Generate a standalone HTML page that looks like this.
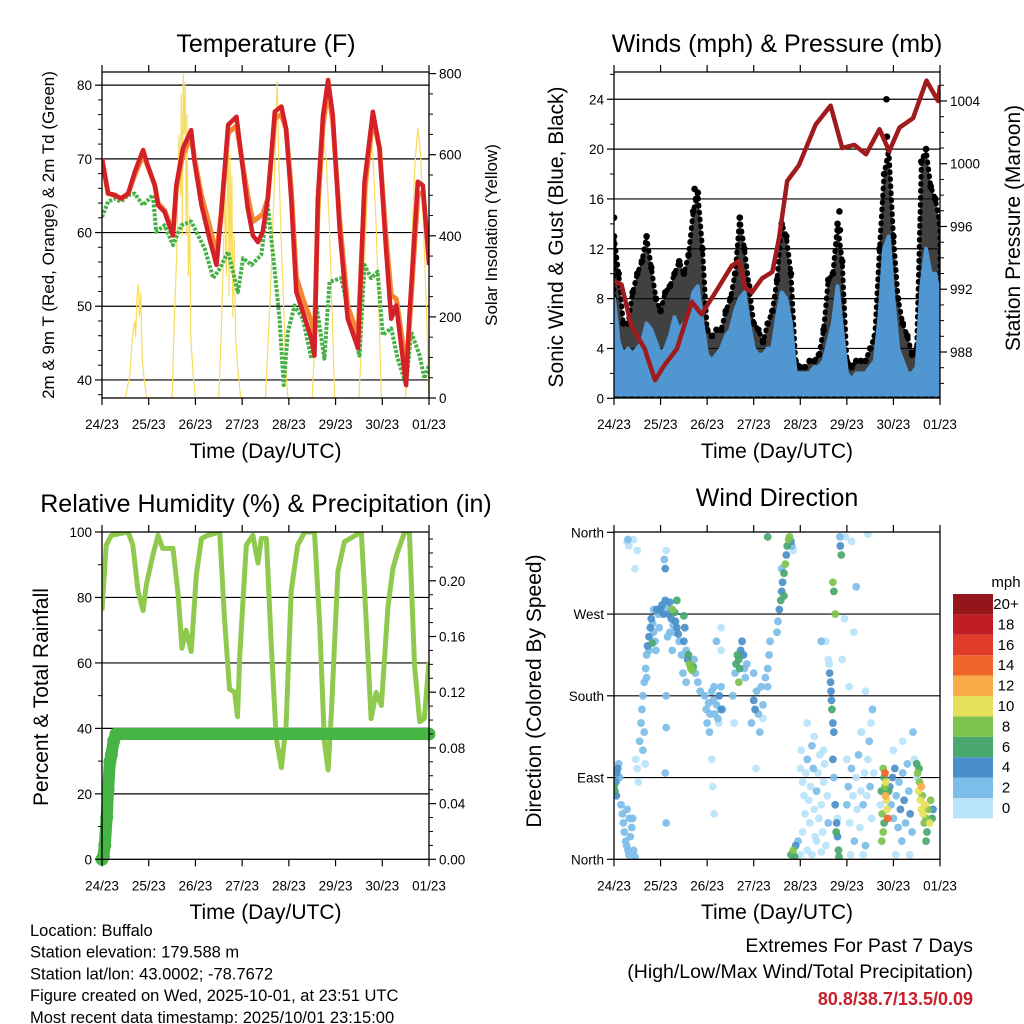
<!DOCTYPE html>
<html><head><meta charset="utf-8"><style>
html,body{margin:0;padding:0;background:#fff;}
svg{display:block;font-family:"Liberation Sans",Arial,sans-serif;}
</style></head><body>
<svg id="chart" width="1024" height="1024" viewBox="0 0 1024 1024" xmlns="http://www.w3.org/2000/svg">
<rect x="0" y="0" width="1024" height="1024" fill="#fff"/>
</svg>
<script>
// ---------- DATA ----------
const dayLabels = ["24/23","25/23","26/23","27/23","28/23","29/23","30/23","01/23"];
const tempTimes = [0,.13,.27,.41,.56,.7,.88,.98,1.13,1.2,1.34,1.52,1.59,1.73,1.91,1.98,2.13,2.3,2.45,2.55,2.7,2.88,2.98,3.12,3.23,3.34,3.44,3.55,3.7,3.84,3.94,4.05,4.16,4.3,4.48,4.55,4.62,4.73,4.84,4.94,5.09,5.26,5.48,5.62,5.8,5.94,6.08,6.19,6.3,6.44,6.51,6.58,6.76,6.87,7.0];
const temp2m = [70,65.3,65.1,64.6,65.3,68.2,71.2,69.1,66.4,63.7,62.8,59.6,66.4,71.4,73.9,69.6,63.7,59.2,55.6,62.4,74.6,75.7,70.5,63.3,59.6,58.7,60.1,64.6,76.4,77.1,74.1,64.6,51.9,49.2,45.6,43.3,64.6,75.9,80.7,75.9,60.1,48.3,44.3,66.9,76.4,71.4,57.8,48.3,50.1,42.9,39.3,48.7,66.9,66.4,55.6];
const temp9m = [70,65.3,65.1,64.6,65.3,67.8,70.5,69,66.4,64,63,60,66,70.5,73,70,65,61,57,62.5,73.5,74.5,70.5,65,61.5,62,62.5,64.6,75.5,76,74,66,54,51,48,46,63,74.5,79.5,75,61.5,50,46,65.5,75.5,71.5,59.5,51.5,51,45,41,47.5,65,65.5,57];
const dewTimes = [0,.13,.27,.41,.56,.7,.88,1.09,1.16,1.34,1.52,1.7,1.91,2.2,2.38,2.52,2.7,2.91,3.02,3.2,3.41,3.55,3.7,3.8,3.89,3.98,4.12,4.3,4.48,4.59,4.76,4.87,5.12,5.34,5.51,5.62,5.76,5.9,6.01,6.19,6.33,6.51,6.62,6.8,6.9,7.0];
const dewPoint = [62.1,64.2,64.6,64.2,65.1,65.3,63.7,65.1,60.1,61,58.3,61,61.5,57.8,53.8,55.1,57.4,51.9,56.5,55.6,57,63.7,54.7,48.3,39.3,46.5,50.1,48.3,42.9,50.1,42.9,53.3,53.8,47.4,43.3,55.6,53.8,54.7,46.1,47,42.9,39.3,46.5,43.3,40.2,42];
const solarTimes = [0,.5,.6,.65,.7,.72,.75,.78,.8,.83,.86,.9,.95,1.5,1.55,1.6,1.62,1.65,1.68,1.7,1.72,1.74,1.76,1.78,1.8,1.82,1.85,1.88,1.9,1.95,2.0,2.5,2.55,2.6,2.63,2.66,2.7,2.72,2.74,2.76,2.78,2.8,2.83,2.86,2.9,2.97,3.5,3.55,3.62,3.68,3.72,3.75,3.78,3.82,3.88,3.93,3.98,4.5,4.55,4.62,4.7,4.75,4.8,4.87,4.93,4.98,5.5,5.55,5.62,5.7,5.75,5.8,5.87,5.93,5.98,6.5,6.55,6.62,6.7,6.76,6.82,6.88,6.95,7.0];
const solarValues = [0,0,60,150,190,150,250,280,200,260,100,50,0,0,200,350,500,650,500,750,400,800,650,780,400,700,300,450,150,60,0,0,150,350,550,300,680,250,600,350,550,200,400,150,80,0,0,120,300,500,650,780,600,450,250,80,0,0,120,330,560,630,590,420,200,0,0,120,330,560,650,600,420,200,0,0,120,350,580,665,600,430,200,0];
const windTimes = [0,.1,.2,.3,.4,.5,.6,.7,.8,.9,1,1.1,1.2,1.3,1.4,1.5,1.6,1.7,1.8,1.9,2,2.1,2.2,2.3,2.4,2.5,2.6,2.7,2.8,2.9,3,3.1,3.2,3.3,3.4,3.5,3.6,3.7,3.8,3.9,4,4.1,4.2,4.3,4.4,4.5,4.6,4.7,4.8,4.9,5,5.1,5.2,5.3,5.4,5.5,5.6,5.7,5.8,5.9,6,6.1,6.2,6.3,6.4,6.5,6.6,6.7,6.8,6.9,7];
const sonicWind = [8,4.5,3.5,4,3.5,4,4.5,6,5.5,4.5,3.5,4,5,6.5,5.5,6,6.5,8.5,9,6,3.5,3,3.5,4,5,5.5,7,8,8.5,6,4,3.5,3.5,4,4,6.5,8.5,8,6,2,2,2,2,2.5,2.5,3,4.5,6,9,5.5,2,1.5,2,2,2,2.5,3,6.5,12,13,8,4,3,2,2,2.5,9,12,10,10,8];
const gustWind = [13,10,6,6,8.5,10,11,13,10.5,8,7,8.5,9,10,11,10,11.5,15,16.5,12,5.5,5,5.5,5.5,7,8,10,14.5,12,9,6,5.5,4.5,6,7,9.5,14,13,10,3,2.5,2.5,3,3,3.5,5.5,9.5,10,14,11,3,2.5,3,3,3,4,5,12,18,20,13,8,6,5,3.5,4,19,20,17,16,14];
const gustOutlierTimes = [0.0,5.85,5.86,4.85,4.84,1.73,1.76];
const gustOutlierValues = [14.5,24,21,13.5,15,16.8,16];
const pressTimes = [0,.16,.37,.66,.88,1.09,1.35,1.67,1.88,2.24,2.53,2.68,2.82,2.96,3.18,3.4,3.54,3.72,3.97,4.33,4.65,4.9,5.16,5.41,5.7,5.91,6.13,6.42,6.71,6.96,7.0];
const pressure = [992.5,992.3,989.7,988.2,986.2,987.2,988.2,991.2,990.4,992.1,993.5,993.8,992.1,991.8,992.7,993.1,995.2,998.9,999.9,1002.5,1003.7,1001,1001.2,1000.6,1002.2,1000.8,1002.3,1002.9,1005.3,1004,1005];
const rhTimes = [0,.09,.2,.56,.66,.77,.88,.95,1.09,1.2,1.3,1.52,1.63,1.71,1.8,1.91,2.02,2.13,2.27,2.52,2.62,2.73,2.84,2.9,2.95,3.09,3.23,3.34,3.41,3.52,3.62,3.73,3.84,3.94,4.05,4.19,4.34,4.55,4.66,4.76,4.84,4.91,5.05,5.19,5.55,5.66,5.76,5.87,5.98,6.12,6.23,6.33,6.48,6.58,6.69,6.8,6.9,7.0];
const rhValues = [76,96,99,100,96,82,76,84,93,99,95,95,81,64.5,70,63.5,87,98,99,100,74,52,51,43.6,62.5,96,99,90.5,98,98,66.5,37,28,41,82,96,100,100,71.7,36,27.3,45,88,97,100,71.7,43,51,47,77,89,94,100,100,59.4,42,43,60.4];
const precipTimes = [0,.03,.06,.1,.13,.17,.2,.25,.3,7.0];
const precipTotal = [0,.002,.01,.03,.05,.07,.075,.085,.09,.09];
const wdTime = [0,.02,.04,.06,.08,.1,.05,.12,.15,.18,.2,.22,.25,.27,.3,.32,.35,.38,.4,.42,.45,.28,.33,.5,.47,.52,.28,.32,.42,.5,.3,.45,.55,.58,.6,.62,.65,.68,.7,.72,.75,.78,.8,.83,.85,.88,.9,.92,.95,.97,.7,.62,.65,.75,.82,.85,.67,1.12,1.1,1.12,1.12,1.1,1.12,1.08,1,1.03,1.06,1.1,1.13,1.17,1.2,1.23,1.27,1.3,1.32,1.35,1.38,1.4,1.2,1.15,1.25,1.3,1.35,1.25,1.5,1.55,1.58,1.62,1.65,1.68,1.7,1.6,1.72,1.75,1.8,1.85,1.5,1.52,1.45,1.48,1.55,1.95,1.98,2,2.03,2.06,2.1,2.13,2.16,2.2,2.23,2.26,2.3,2.33,2.05,2.15,2.25,2.1,2.12,2.15,2.2,2.3,2.6,2.62,2.65,2.68,2.7,2.72,2.75,2.78,2.8,2.82,2.85,2.68,2.55,2.58,2.3,2.3,2.95,3,3.03,3.06,3.1,3.13,3.16,3.2,3.25,3.3,3.33,3.35,3.3,3,3.2,3.05,3.5,3.52,3.55,3.58,3.6,3.62,3.65,3.68,3.7,3.72,3.75,3.77,3.8,3.82,3.85,3.65,3.6,3.8,3.85,3.88,3.9,3.95,4,4,4.02,4.05,4.08,4.1,4.12,4.15,4.18,4.2,4.22,4.25,4.28,4.3,4.32,4.35,4.38,4.4,4.42,4.45,4.48,4.5,4.52,4.55,4.58,4.6,4.05,4.15,4.25,4.35,4.45,4.15,4.3,4.5,4.55,4.45,4.6,4.62,4.63,4.65,4.66,4.67,4.68,4.7,4.72,4.7,4.72,4.75,4.78,4.8,4.82,4.83,4.7,4.72,4.85,4.86,4.88,4.75,4.77,4.8,5,5.03,5.06,5.1,5.13,5.16,5.2,5.22,5.25,5.28,5.3,5.32,5.35,5.38,5.4,5.43,5.45,5.48,5.5,5.53,5.55,5.58,5.1,5.2,5.3,5,5.08,5.35,5.52,5.05,5.15,5.72,5.74,5.76,5.78,5.8,5.82,5.83,5.85,5.86,5.84,5.82,5.88,5.75,5.9,5.78,5.8,5.92,5.95,5.98,6,6.03,6.06,6.1,6.12,6.15,6.18,6.2,6.23,6.26,6.3,6.33,6.36,6.4,6.42,6.2,6.05,6.35,6.45,6,6.5,6.52,6.54,6.56,6.58,6.6,6.62,6.64,6.66,6.68,6.7,6.72,6.75,6.78,6.8,6.83,6.85,6.55,6.6,6.7,6.5,3.3,4.97,5.45,4.9,4.95,5.4];
const wdDir = [80,75,85,95,100,105,70,90,60,50,40,30,20,15,10,5,25,35,45,10,3,55,45,100,110,85,350,345,352,340,352,320,130,150,165,180,195,210,225,235,245,255,265,260,250,240,230,275,270,255,200,120,140,230,238,275,105,340,320,180,145,95,40,330,275,280,270,285,278,270,283,265,258,250,262,255,248,240,250,245,230,272,285,275,240,230,220,215,210,208,212,225,220,205,195,185,268,255,225,205,195,180,165,150,172,160,185,175,160,170,155,180,190,165,140,190,150,110,80,50,240,165,205,215,225,220,210,230,240,225,210,200,215,195,180,150,255,230,150,175,165,185,160,140,190,170,200,210,225,240,190,205,155,100,250,262,275,285,295,305,315,325,335,345,352,355,350,345,340,290,320,5,10,3,15,20,5,100,120,85,70,50,95,110,65,40,80,125,100,55,25,75,95,45,115,60,30,85,105,15,70,40,30,10,5,20,8,150,135,120,240,240,220,215,205,195,185,175,165,150,140,110,90,60,40,25,10,3,305,295,355,345,335,270,30,45,60,80,40,100,70,20,90,55,115,35,75,140,60,95,15,70,110,130,80,45,165,95,350,300,140,110,5,5,150,190,250,60,75,50,30,90,80,70,65,55,85,95,45,20,75,100,40,80,60,90,45,100,70,35,85,55,20,95,65,40,105,75,50,30,140,130,5,5,110,120,90,95,75,85,65,55,70,50,40,60,45,30,55,40,65,45,55,100,80,20,105,355,355,358,220,265,185];
const wdSpeed = [6,6,5,4,4,3,4,3,2,2,2,2,2,2,2,2,2,2,2,2,2,2,3,1,1,1,1,1,1,1,3,1,2,2,2,2,2,2,3,4,4,4,4,3,2,2,3,4,3,2,2,2,2,3,6,2,1,1,4,2,2,3,2,3,4,4,4,4,3,4,4,4,3,3,4,4,4,3,2,3,2,6,6,8,4,3,4,8,8,8,7,6,3,3,2,2,6,4,3,2,2,2,2,2,2,2,2,2,3,2,3,4,2,2,2,2,1,1,1,1,2,4,2,6,6,6,6,4,4,4,2,2,2,8,2,1,1,1,3,4,4,2,2,2,2,2,2,2,2,2,3,2,1,1,2,2,4,6,4,4,6,8,4,6,8,8,4,2,1,6,3,6,8,6,4,2,1,1,1,1,1,1,1,2,1,1,1,2,2,1,1,2,1,1,1,1,1,1,1,1,1,2,1,1,1,1,1,1,1,1,1,2,1,1,4,4,4,4,6,4,4,4,3,4,4,4,6,6,8,6,3,4,6,8,6,1,2,2,1,2,1,2,1,1,2,1,1,1,2,1,2,1,1,3,2,1,2,1,1,2,1,1,1,1,1,1,1,1,6,8,8,6,8,12,10,10,10,14,14,8,6,8,6,4,2,4,2,4,3,2,2,4,2,2,4,2,2,2,4,2,2,1,1,1,1,1,1,8,10,8,10,10,8,10,8,10,8,6,8,10,8,6,4,6,12,6,6,6,1,1,1,1,1,1];
const speedBins = ["0","2","4","6","8","10","12","14","16","18","20+"];
const speedColors = ["#b9e3f9","#7dbde9","#4a8fc9","#48a86e","#7dc24d","#e6e159","#f8ab49","#f0652a","#e03a2b","#c11d25","#95161a"];
const footLeft = ["Location: Buffalo","Station elevation: 179.588 m","Station lat/lon: 43.0002; -78.7672","Figure created on Wed, 2025-10-01, at 23:51 UTC","Most recent data timestamp: 2025/10/01 23:15:00"];

// ---------- HELPERS ----------
const NS='http://www.w3.org/2000/svg';
const svg=document.getElementById('chart');
const defs=document.createElementNS(NS,'defs');
svg.appendChild(defs);
function add(tag, attrs, name, parent){
  const el=document.createElementNS(NS,tag);
  for(const k in attrs) el.setAttribute(k, attrs[k]);
  
  
  (parent||svg).appendChild(el);
  return el;
}
function text(x,y,s,size,anchor,name,extra){
  const el=add('text',Object.assign({x:x,y:y,'font-size':size,'text-anchor':anchor||'middle',fill:'#000'},extra||{}),name);
  el.textContent=s;
  return el;
}
function panel(id,x0,x1,y0,y1){
  const cp=document.createElementNS(NS,'clipPath');
  cp.setAttribute('id','clip-'+id);
  const r=document.createElementNS(NS,'rect');
  r.setAttribute('x',x0);r.setAttribute('y',y0);r.setAttribute('width',x1-x0);r.setAttribute('height',y1-y0);
  cp.appendChild(r);defs.appendChild(cp);
  const g=add('g',{'clip-path':'url(#clip-'+id+')'},id+'-plot-area');
  return {x0,x1,y0,y1,g,xs:t=>x0+t*(x1-x0)/7};
}
function pts(P,ts,vs,ys){return ts.map((t,i)=>P.xs(t).toFixed(1)+','+ys(vs[i]).toFixed(1)).join(' ');}
function hgrid(P,y,name){add('line',{x1:P.x0,x2:P.x1,y1:y,y2:y,stroke:'#000','stroke-width':1.2},name,P.g);}
function frame(P,name,ylabY){
  add('rect',{x:P.x0,y:P.y0,width:P.x1-P.x0,height:P.y1-P.y0,fill:'none',stroke:'#000','stroke-width':1.3},name+'-frame');
  for(let d=0;d<=7;d++){
    const x=P.xs(d);
    add('line',{x1:x,x2:x,y1:P.y1,y2:P.y1+7,stroke:'#000','stroke-width':1.2},name+'-x-tick');
    add('line',{x1:x,x2:x,y1:P.y0,y2:P.y0-7,stroke:'#000','stroke-width':1.2},name+'-x-tick-top');
    text(x,P.y1+31,dayLabels[d],13.5,'middle',name+'-x-tick-label');
  }
  text((P.x0+P.x1)/2,ylabY,'Time (Day/UTC)',21,'middle',name+'-x-axis-title');
}
function yTicks(P,side,vals,ys,labels,minor,name){
  const x=side==='l'?P.x0:P.x1, dir=side==='l'?-1:1;
  vals.forEach((v,i)=>{
    const y=ys(v);
    add('line',{x1:x,x2:x+dir*7,y1:y,y2:y,stroke:'#000','stroke-width':1.2},name+'-tick');
    text(x+dir*10,y+5,labels[i],13.5,side==='l'?'end':'start',name+'-tick-label');
  });
  minor.forEach(v=>{const y=ys(v);add('line',{x1:x,x2:x+dir*4,y1:y,y2:y,stroke:'#000','stroke-width':1},name+'-minor-tick');});
}
function vtitle(x,y,s,size,name){text(x,y,s,size,'middle',name,{transform:'rotate(-90 '+x+' '+y+')'});}

// ---------- PANEL 1: TEMPERATURE ----------
const P1=panel('temperature',102,429,72,398);
const tY=v=>398-(v-37.55)*7.37, sY=v=>398-v*0.4055;
[80,70,60,50,40].forEach(v=>hgrid(P1,tY(v),'temp-gridline'));
add('polyline',{points:pts(P1,solarTimes,solarValues,sY),fill:'none',stroke:'#f8dc5e','stroke-width':1.2},'solar-insolation-line',P1.g);
add('polyline',{points:pts(P1,dewTimes,dewPoint,tY),fill:'none',stroke:'#45b045','stroke-width':4,'stroke-dasharray':'3 1.5','stroke-linejoin':'round'},'dewpoint-2m-line',P1.g);
add('polyline',{points:pts(P1,tempTimes,temp9m,tY),fill:'none',stroke:'#f58634','stroke-width':5,'stroke-linejoin':'round'},'temp-9m-line',P1.g);
add('polyline',{points:pts(P1,tempTimes,temp2m,tY),fill:'none',stroke:'#d42027','stroke-width':4.5,'stroke-linejoin':'round'},'temp-2m-line',P1.g);
frame(P1,'temp',458);
yTicks(P1,'l',[40,50,60,70,80],tY,['40','50','60','70','80'],[38,42,44,46,48,52,54,56,58,62,64,66,68,72,74,76,78,80],'temp-y');
yTicks(P1,'r',[0,200,400,600,800],sY,['0','200','400','600','800'],[50,100,150,250,300,350,450,500,550,650,700,750],'solar-y');
text(266,52,'Temperature (F)',25,'middle','temp-title');
vtitle(54,235,'2m & 9m T (Red, Orange) & 2m Td (Green)',17,'temp-y-axis-title');
vtitle(497,235,'Solar Insolation (Yellow)',17,'solar-y-axis-title');

// ---------- PANEL 2: WINDS ----------
const P2=panel('winds',614,940,72,398);
const wY=v=>398.3-v*12.46, pY=v=>352-(v-988)*15.69;
[4,8,12,16,20,24].forEach(v=>hgrid(P2,wY(v),'wind-gridline'));
const gustPoly=pts(P2,windTimes,gustWind,wY)+' '+P2.xs(7)+','+wY(0)+' '+P2.xs(0)+','+wY(0);
add('polygon',{points:gustPoly,fill:'#111','fill-opacity':0.8,stroke:'#000','stroke-width':5,'stroke-dasharray':'1 6','stroke-linecap':'round','stroke-linejoin':'round'},'gust-area',P2.g);
windTimes.forEach((t,i)=>{add('circle',{cx:P2.xs(t),cy:wY(gustWind[i]),r:3.3,fill:'#000'},'gust-point',P2.g);});
gustOutlierTimes.forEach((t,i)=>{add('circle',{cx:P2.xs(t),cy:wY(gustOutlierValues[i]),r:3.3,fill:'#000'},'gust-outlier-point',P2.g);});
const windPoly=pts(P2,windTimes,sonicWind,wY)+' '+P2.xs(7)+','+wY(0.3)+' '+P2.xs(0)+','+wY(0.3);
add('polygon',{points:windPoly,fill:'#5096d0',stroke:'#5096d0','stroke-width':4,'stroke-linejoin':'round'},'sonic-wind-area',P2.g);
add('polyline',{points:pts(P2,pressTimes,pressure,pY),fill:'none',stroke:'#a01b1d','stroke-width':4.5,'stroke-linejoin':'round'},'pressure-line',P2.g);
frame(P2,'wind',458);
yTicks(P2,'l',[0,4,8,12,16,20,24],wY,['0','4','8','12','16','20','24'],[2,6,10,14,18,22,26],'wind-y');
yTicks(P2,'r',[988,992,996,1000,1004],pY,['988','992','996','1000','1004'],[986,987,989,990,991,993,994,995,997,998,999,1001,1002,1003,1005],'pressure-y');
text(777,52,'Winds (mph) & Pressure (mb)',25,'middle','winds-title');
vtitle(563,237,'Sonic Wind & Gust (Blue, Black)',21,'wind-y-axis-title');
vtitle(1020,228,'Station Pressure (Maroon)',21,'pressure-y-axis-title');

// ---------- PANEL 3: RH & PRECIP ----------
const P3=panel('humidity',102,429,532,859.3);
const rY=v=>859.3-v*3.273, prY=v=>859.3-v*1392.5;
[20,40,60,80].forEach(v=>hgrid(P3,rY(v),'rh-gridline'));
add('polyline',{points:pts(P3,rhTimes,rhValues,rY),fill:'none',stroke:'#8fca4f','stroke-width':5,'stroke-linejoin':'round'},'relative-humidity-line',P3.g);
add('polyline',{points:pts(P3,precipTimes,precipTotal,prY),fill:'none',stroke:'#47b446','stroke-width':12,'stroke-linejoin':'round'},'precip-total-line');
precipTimes.forEach((t,i)=>{add('circle',{cx:P3.xs(t),cy:prY(precipTotal[i]),r:6.5,fill:'#47b446'},'precip-point');});
frame(P3,'rh',919);
yTicks(P3,'l',[0,20,40,60,80,100],rY,['0','20','40','60','80','100'],[10,30,50,70,90],'rh-y');
yTicks(P3,'r',[0,.04,.08,.12,.16,.2],prY,['0.00','0.04','0.08','0.12','0.16','0.20'],[.01,.02,.03,.05,.06,.07,.09,.1,.11,.13,.14,.15,.17,.18,.19,.21,.22,.23],'precip-y');
text(266,512,'Relative Humidity (%) & Precipitation (in)',25,'middle','rh-title');
vtitle(48,697,'Percent & Total Rainfall',21,'rh-y-axis-title');

// ---------- PANEL 4: WIND DIRECTION ----------
const P4=panel('wind-direction',614,940,532,859.3);
const dY=v=>859.3-v*0.9083;
[90,180,270].forEach(v=>hgrid(P4,dY(v),'direction-gridline'));
const order=wdTime.map((t,i)=>i).sort((a,b)=>wdSpeed[a]-wdSpeed[b]);
order.forEach(i=>{
  const b=Math.min(10,Math.floor(wdSpeed[i]/2));
  add('circle',{cx:P4.xs(wdTime[i]),cy:dY(wdDir[i]),r:3.9,fill:speedColors[b],'fill-opacity':0.92},'direction-point',P4.g);
});
frame(P4,'direction',919);
yTicks(P4,'l',[0,90,180,270,360],dY,['North','East','South','West','North'],[],'direction-y');
text(777,506,'Wind Direction',25,'middle','direction-title');
vtitle(541,691,'Direction (Colored By Speed)',21,'direction-y-axis-title');
text(1006,587,'mph',15,'middle','colorbar-title');
speedBins.forEach((lab,i)=>{
  const y=594+(10-i)*20.4;
  add('rect',{x:953,y:y,width:40,height:20.4,fill:speedColors[i]},'colorbar-swatch');
  text(1006,y+15,lab,15,'middle','colorbar-label');
});

// ---------- FOOTER ----------
footLeft.forEach((s,i)=>text(30,936+i*21.7,s,16.5,'start','footer-info-line'));
text(973,952,'Extremes For Past 7 Days',19.5,'end','extremes-heading');
text(973,978,'(High/Low/Max Wind/Total Precipitation)',19.5,'end','extremes-subheading');
text(973,1005,'80.8/38.7/13.5/0.09',18,'end','extremes-values',{fill:'#c8202a','font-weight':'bold'});
</script>
</body></html>
